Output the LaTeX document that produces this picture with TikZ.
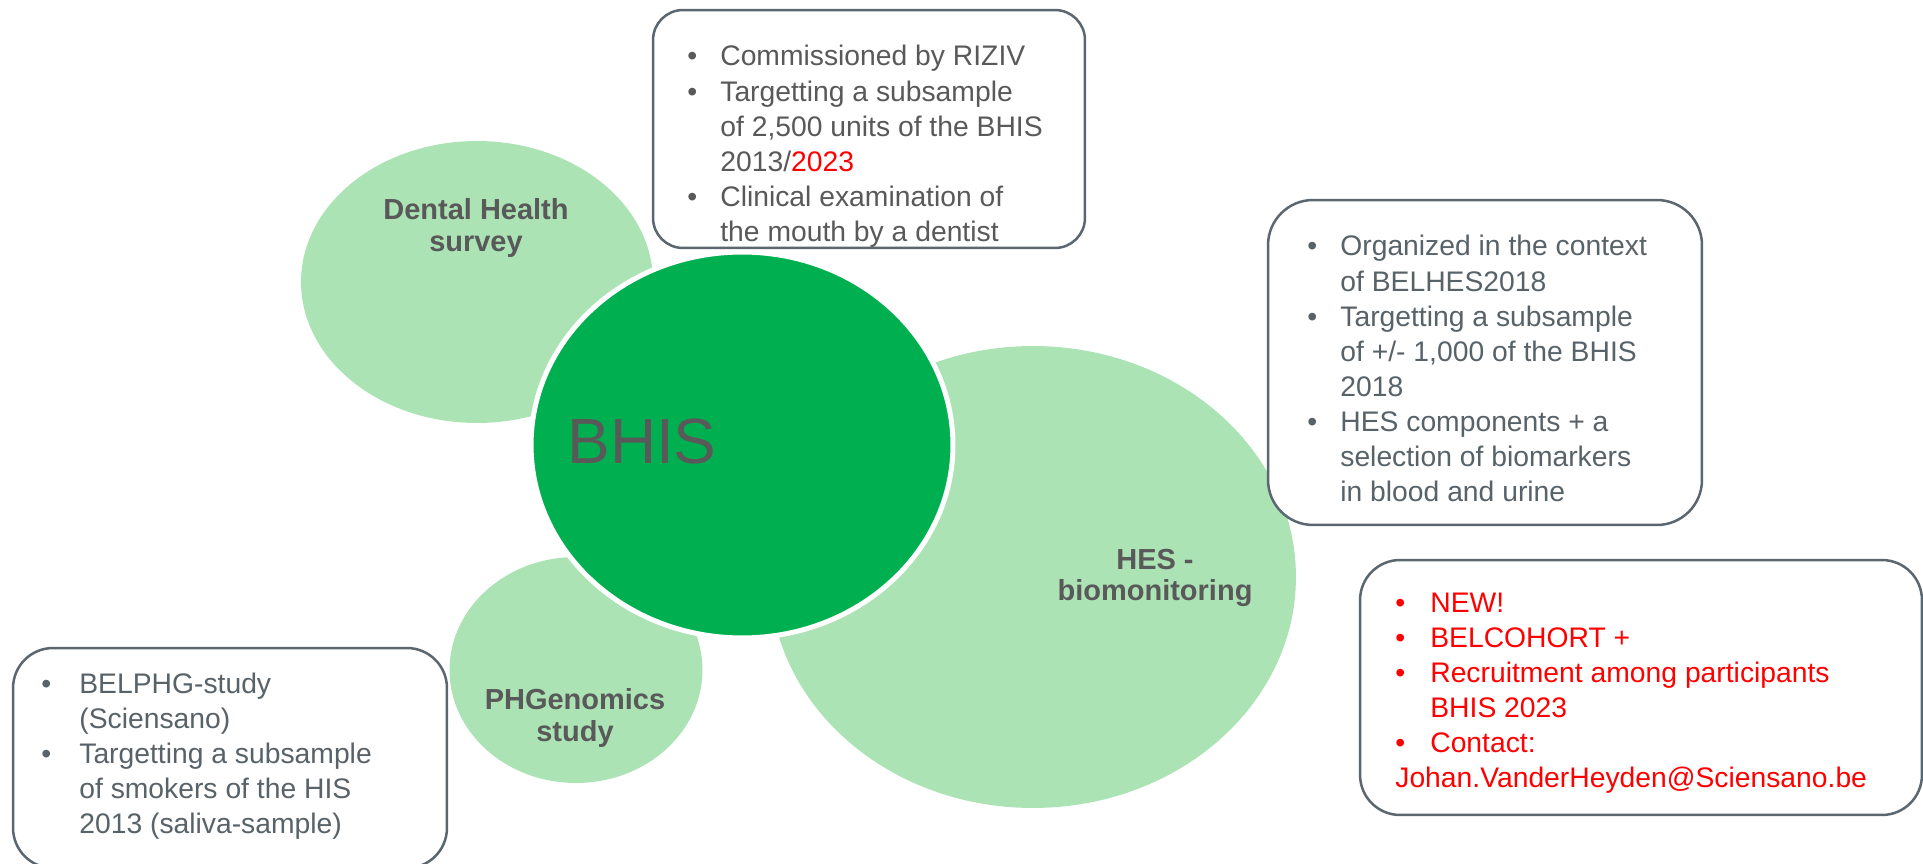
\documentclass[tikz,border=0pt]{standalone}
\usepackage{fontspec}
\setmainfont{Liberation Sans}
\usetikzlibrary{shapes.geometric}

\definecolor{lightgreen}{RGB}{171,227,181}
\definecolor{darkgreen}{RGB}{0,176,80}
\definecolor{labelgray}{RGB}{89,89,89}
\definecolor{boxgray}{RGB}{91,103,112}
\definecolor{textgray}{RGB}{88,98,105}

\begin{document}
\begin{tikzpicture}[x=0.02cm,y=-0.02cm,
    bubble/.style={ellipse, fill=lightgreen, inner sep=0pt},
    bubblelabel/.style={align=center, text=labelgray, inner sep=0pt,
      font=\fontsize{16.5}{17.8}\selectfont\bfseries},
    infobox/.style={draw=boxgray, line width=0.05cm, fill=white, inner sep=0pt},
    infotext/.style={anchor=base west, inner sep=0pt, text=textgray,
      font=\fontsize{16.1}{20}\selectfont}]
   \useasboundingbox (0,0) rectangle (1923,864);

   % bubbles
   \node[bubble, minimum width=7.04cm,  minimum height=5.64cm] (dental) at (477,282)  {};
   \node[bubble, minimum width=10.52cm, minimum height=9.24cm] (hes)    at (1033,577) {};
   \node[bubble, minimum width=5.06cm,  minimum height=4.52cm] (phg)    at (576,670)  {};
   \node[ellipse, fill=darkgreen, draw=white, line width=0.1cm,
         minimum width=8.44cm, minimum height=7.72cm] (bhis) at (742,445) {};

   \node[bubblelabel] (dentallabel) at (476,228)  {Dental Health\\survey};
   \node[bubblelabel] (heslabel)    at (1155,578) {HES -\\biomonitoring};
   \node[bubblelabel] (phglabel)    at (575,718)  {PHGenomics\\study};
   \node[text=labelgray, inner sep=0pt, font=\fontsize{36.4}{40}\selectfont]
         (bhislabel) at (642,441) {BHIS};

   % boxes
   \node[infobox, minimum width=8.64cm, minimum height=4.76cm, rounded corners=0.6cm]
         (dentalbox) at (869,129) {};
   \node[infotext, text=labelgray] (dentaltext) at (687,66) {\begin{tabular}[t]{@{}p{0.66cm}@{}l@{}}
      \textbullet & Commissioned by RIZIV\\
      \textbullet & Targetting a subsample\\
                  & of 2,500 units of the BHIS\\
                  & 2013/\textcolor{red}{2023}\\
      \textbullet & Clinical examination of\\
                  & the mouth by a dentist
   \end{tabular}};

   \node[infobox, minimum width=8.68cm, minimum height=6.5cm, rounded corners=0.9cm]
         (hesbox) at (1485,362.5) {};
   \node[infotext] (hestext) at (1307,256) {\begin{tabular}[t]{@{}p{0.66cm}@{}l@{}}
      \textbullet & Organized in the context\\
                  & of BELHES2018\\
      \textbullet & Targetting a subsample\\
                  & of +/- 1,000 of the BHIS\\
                  & 2018\\
      \textbullet & HES components + a\\
                  & selection of biomarkers\\
                  & in blood and urine
   \end{tabular}};

   \node[infobox, minimum width=11.24cm, minimum height=5.1cm, rounded corners=0.8cm]
         (newbox) at (1641,687.5) {};
   \node[infotext, text=red] (newtext) at (1395,612) {\begin{tabular}[t]{@{}p{0.7cm}@{}l@{}}
      \textbullet & NEW!\\
      \textbullet & BELCOHORT +\\
      \textbullet & Recruitment among participants\\
                  & BHIS 2023\\
      \textbullet & Contact:\\
      \multicolumn{2}{@{}l@{}}{Johan.VanderHeyden@Sciensano.be}
   \end{tabular}};

   \node[infobox, minimum width=8.68cm, minimum height=4.4cm, rounded corners=0.8cm]
         (phgbox) at (230,758) {};
   \node[infotext] (phgtext) at (41,693) {\begin{tabular}[t]{@{}p{0.76cm}@{}l@{}}
      \textbullet & BELPHG-study\\
                  & (Sciensano)\\
      \textbullet & Targetting a subsample\\
                  & of smokers of the HIS\\
                  & 2013 (saliva-sample)
   \end{tabular}};
\end{tikzpicture}
\end{document}
